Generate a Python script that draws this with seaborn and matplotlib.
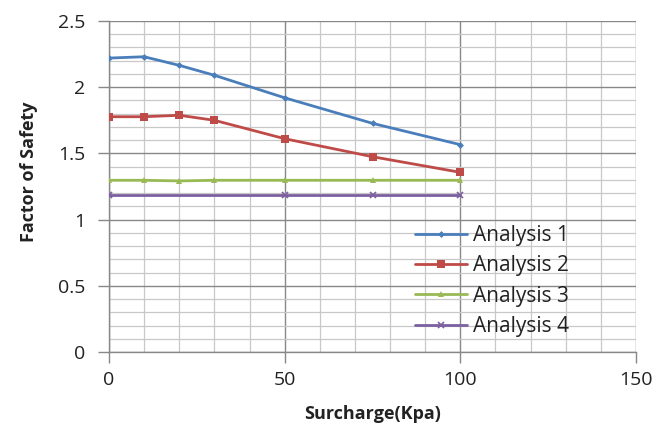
import matplotlib
matplotlib.use("Agg")
import matplotlib.pyplot as plt
import seaborn as sns
import pandas as pd
from matplotlib.ticker import MultipleLocator, FuncFormatter

x_main = [0, 10, 20, 30, 50, 75, 100]
analysis1 = [2.22, 2.23, 2.165, 2.09, 1.92, 1.727, 1.566]
analysis2 = [1.777, 1.777, 1.788, 1.75, 1.611, 1.475, 1.357]
analysis3 = [1.297, 1.297, 1.292, 1.297, 1.297, 1.297, 1.297]
x_a4 = [0, 50, 75, 100]
analysis4 = [1.186, 1.186, 1.186, 1.186]

labels = ["Analysis 1", "Analysis 2", "Analysis 3", "Analysis 4"]
x_ticks = [0, 50, 100, 150]
y_ticks = [0, 0.5, 1, 1.5, 2, 2.5]

colors = ["#4A7EBB", "#BE4B48", "#98B954", "#7D60A0"]
markers = ["D", "s", "^", "x"]
msizes = [3.5, 6, 4.5, 5]

sns.set_style("white")
plt.rcParams['font.family'] = ['Open Sans', 'DejaVu Sans']

fig = plt.figure(figsize=(6.72, 4.29), dpi=100)
ax = fig.add_axes([109/672, 1-352/429, (636-109)/672, (352-21)/429])

series = [(x_main, analysis1), (x_main, analysis2), (x_main, analysis3), (x_a4, analysis4)]
for (xs, ys), lab, c, m, ms in zip(series, labels, colors, markers, msizes):
    df = pd.DataFrame({"x": xs, "y": ys})
    sns.lineplot(data=df, x="x", y="y", ax=ax, color=c, marker=m, markersize=ms,
                 markeredgecolor=c, markeredgewidth=1.2 if m == "x" else 0,
                 linewidth=2, label=lab, zorder=3)

ax.set_xlim(0, 150)
ax.set_ylim(0, 2.5)
ax.set_xticks(x_ticks)
ax.set_yticks(y_ticks)
ax.xaxis.set_minor_locator(MultipleLocator(10))
ax.yaxis.set_minor_locator(MultipleLocator(0.1))
fmt = FuncFormatter(lambda v, p: f"{v:g}")
ax.xaxis.set_major_formatter(fmt)
ax.yaxis.set_major_formatter(fmt)

ax.grid(which="major", color="#888888", linewidth=1.0, zorder=0)
ax.grid(which="minor", color="#c8c8c8", linewidth=0.9, zorder=0)
ax.set_axisbelow(True)

for s in ["top", "right"]:
    ax.spines[s].set_visible(False)
for s in ["left", "bottom"]:
    ax.spines[s].set_color("#888888")
    ax.spines[s].set_linewidth(1.0)

ax.tick_params(axis="both", which="major", length=8, width=1, color="#888888",
               direction="out", labelsize=14, labelcolor="#222222", left=True, bottom=True)
ax.tick_params(axis="both", which="minor", length=0)
ax.tick_params(axis="x", pad=6)
ax.tick_params(axis="y", pad=9)

ax.set_xlabel("Surcharge(Kpa)", fontsize=13, fontweight="bold", labelpad=11, color="#222222")
ax.set_ylabel("Factor of Safety", fontsize=13, fontweight="bold", color="#222222")
ax.yaxis.set_label_coords(-0.135, 0.545)

leg = ax.legend(loc="lower left", bbox_to_anchor=(0.565, 0.02), frameon=False,
                fontsize=15, handlelength=2.5, handletextpad=0.3, labelspacing=0.45,
                borderaxespad=0)
for t in leg.get_texts():
    t.set_color("#222222")

fig.savefig("out.png", dpi=100)
